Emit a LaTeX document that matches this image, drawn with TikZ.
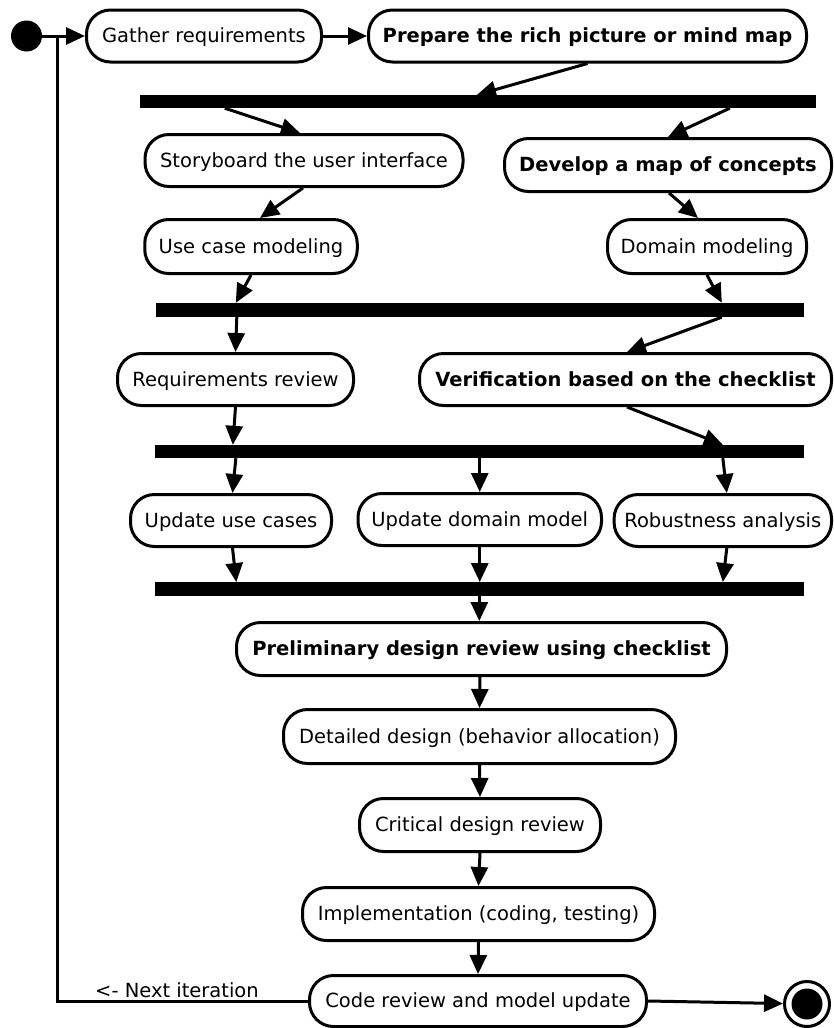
\documentclass[tikz,border=0pt]{standalone}
\usepackage{fontspec}
\setmainfont{DejaVu Sans}
\usetikzlibrary{arrows.meta}
\begin{document}
\begin{tikzpicture}[x=1pt,y=-1pt,
  act/.style={draw, line width=3pt, rounded corners=24pt, inner sep=0pt, align=center,
    font=\fontsize{19.5}{23}\selectfont, text height=15pt, text depth=2pt},
  bact/.style={act, font=\fontsize{19.5}{23}\selectfont\bfseries},
  bar/.style={fill=black, draw=none, inner sep=0pt},
  flow/.style={line width=3pt, -{Triangle[length=19pt,width=17pt]}},
  link/.style={line width=3pt},
]
\useasboundingbox (0,0) rectangle (834,1028);

% start and end markers
\node[circle, fill=black, inner sep=0pt, minimum size=31pt] (init) at (26.5,36) {};
\node[circle, draw, line width=3pt, inner sep=0pt, minimum size=45pt] (final) at (807,1004) {};
\node[circle, fill=black, inner sep=0pt, minimum size=31pt] (finaldot) at (final.center) {};

% activities
\node[act,  minimum width=235pt, minimum height=52pt] (gather)   at (204,36)     {Gather requirements};
\node[bact, minimum width=438pt, minimum height=52pt] (prepare)  at (587.5,36)   {Prepare the rich picture or mind map};
\node[act,  minimum width=318pt, minimum height=52pt] (story)    at (304,160.5)  {Storyboard the user interface};
\node[bact, minimum width=327pt, minimum height=53pt] (develop)  at (668,165)    {Develop a map of concepts};
\node[act,  minimum width=212.5pt, minimum height=54pt] (usecase) at (251,246.5) {Use case modeling};
\node[act,  minimum width=199pt, minimum height=54pt] (domain)   at (707,246.5)  {Domain modeling};
\node[act,  minimum width=236pt, minimum height=52pt] (req)      at (235.5,379.5) {Requirements review};
\node[bact, minimum width=412pt, minimum height=52pt] (verif)    at (625.5,379.5) {Verification based on the checklist};
\node[act,  minimum width=201pt, minimum height=52pt] (upuc)     at (231,520.5)  {Update use cases};
\node[act,  minimum width=243.5pt, minimum height=52pt] (updm)   at (479.75,519.5) {Update domain model};
\node[act,  minimum width=217.4pt, minimum height=52pt] (robust) at (722.8,520.5) {Robustness analysis};
\node[bact, minimum width=490pt, minimum height=53pt] (prelim)   at (481.5,649)  {Preliminary design review using checklist};
\node[act,  minimum width=392pt, minimum height=54pt] (detail)   at (479.5,736.5) {Detailed design (behavior allocation)};
\node[act,  minimum width=241pt, minimum height=53pt] (critical) at (480,825)    {Critical design review};
\node[act,  minimum width=352pt, minimum height=53pt] (impl)     at (478.5,914)  {Implementation (coding, testing)};
\node[act,  minimum width=337pt, minimum height=51pt] (code)     at (478,1001)   {Code review and model update};

% fork / join bars
\node[bar, minimum width=676pt,   minimum height=13pt]   (bar1) at (478,101.5) {};
\node[bar, minimum width=648pt,   minimum height=14pt]   (bar2) at (479.5,310) {};
\node[bar, minimum width=648.5pt, minimum height=13pt]   (bar3) at (479.3,451.5) {};
\node[bar, minimum width=648.6pt, minimum height=13.5pt] (bar4) at (479.3,589) {};

% loop back label
\node[anchor=base west, inner sep=0pt, font=\fontsize{19.5}{23}\selectfont] (nextlabel) at (95,997) {<- Next iteration};
\coordinate (loopjoin) at (57,36);

% flows
\draw[flow] (init.east) -- (gather.west);
\draw[flow] (gather.east) -- (prepare.west);
\draw[flow] (prepare.south) -- ([xshift=-1pt]bar1.north);
\draw[flow] ([xshift=85pt]bar1.south west) -- ([xshift=-4pt]story.north);
\draw[flow] ([xshift=590pt]bar1.south west) -- (develop.north);
\draw[flow] ([xshift=-1pt]story.south) -- ([xshift=9pt]usecase.north);
\draw[flow] ([xshift=1pt]develop.south) -- ([xshift=-9pt]domain.north);
\draw[flow] (usecase.south) -- ([xshift=80.5pt]bar2.north west);
\draw[flow] (domain.south) -- ([xshift=566.5pt]bar2.north west);
\draw[flow] ([xshift=81.5pt]bar2.south west) -- (req.north);
\draw[flow] ([xshift=566.5pt]bar2.south west) -- ([xshift=1.5pt]verif.north);
\draw[flow] (req.south) -- ([xshift=78pt]bar3.north west);
\draw[flow] ([xshift=1.5pt]verif.south) -- ([xshift=568pt]bar3.north west);
\draw[flow] ([xshift=81pt]bar3.south west) -- ([xshift=1.5pt]upuc.north);
\draw[flow] (bar3.south -| updm.north) -- (updm.north);
\draw[flow] ([xshift=568pt]bar3.south west) -- ([xshift=4pt]robust.north);
\draw[flow] ([xshift=1.5pt]upuc.south) -- ([xshift=81.5pt]bar4.north west);
\draw[flow] (updm.south) -- (updm.south |- bar4.north);
\draw[flow] ([xshift=4pt]robust.south) -- ([xshift=568pt]bar4.north west);
\draw[flow] (bar4.south) -- (bar4.south |- prelim.north);
\draw[flow] ([xshift=-1.5pt]prelim.south) -- (detail.north);
\draw[flow] (detail.south) -- (critical.north);
\draw[flow] (critical.south) -- (impl.north);
\draw[flow] (impl.south) -- (code.north);
\draw[flow] (code.east) -- (final);
\draw[link] (code.west) -| (loopjoin);
\end{tikzpicture}
\end{document}
